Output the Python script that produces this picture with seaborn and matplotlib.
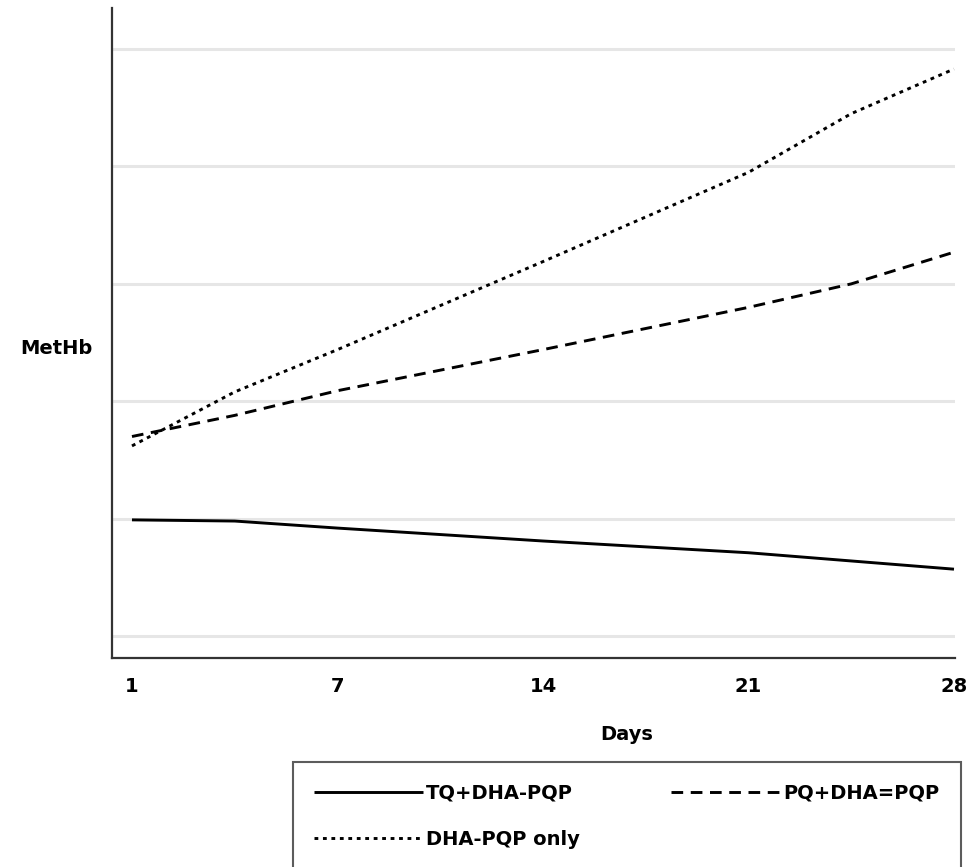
import pandas as pd
import matplotlib.pyplot as plt
import seaborn as sns

# Days shown on the x axis (evenly spaced positions)
day_labels = ["1", "7", "14", "21", "28"]
day_pos = [0, 1, 2, 3, 4]

# Points along each curve (x in tick positions, y in gridline units)
x_pos = [0, 0.5, 1, 2, 3, 3.5, 4]
tq_dha_pqp = [0.99, 0.98, 0.92, 0.81, 0.71, 0.64, 0.57]
pq_dha_pqp = [1.70, 1.88, 2.09, 2.44, 2.80, 3.00, 3.27]
dha_pqp_only = [1.62, 2.08, 2.44, 3.19, 3.95, 4.45, 4.83]

y_ticks = [0, 1, 2, 3, 4, 5]

df = pd.DataFrame({
    "x": x_pos * 3,
    "MetHb": tq_dha_pqp + pq_dha_pqp + dha_pqp_only,
    "group": ["TQ+DHA-PQP"] * len(x_pos) + ["PQ+DHA=PQP"] * len(x_pos)
             + ["DHA-PQP only"] * len(x_pos),
})

sns.set_style("white")
plt.rcParams["font.family"] = ["DejaVu Sans"]
plt.rcParams["font.weight"] = "bold"
plt.rcParams["text.color"] = "black"
plt.rcParams["axes.labelcolor"] = "black"
plt.rcParams["xtick.color"] = "black"
plt.rcParams["ytick.color"] = "black"

fig = plt.figure(figsize=(9.76, 8.67), dpi=100)
ax = fig.add_axes([0.1148, 0.241, 0.8637, 0.7498])

styles = {
    "TQ+DHA-PQP": (0, ()),
    "PQ+DHA=PQP": (0, (4, 2.6)),
    "DHA-PQP only": (0, (1.3, 1.6)),
}
for name, ls in styles.items():
    sns.lineplot(data=df[df["group"] == name], x="x", y="MetHb", ax=ax,
                 color="black", linewidth=2.1, linestyle=ls, label=name,
                 legend=False)

ax.set_xlim(-0.097, 4.005)
ax.set_ylim(-0.187, 5.35)
ax.set_xticks(day_pos)
ax.set_xticklabels(day_labels, fontsize=14, fontweight="bold")
ax.set_yticks(y_ticks)
ax.set_yticklabels([])
ax.yaxis.grid(True, color="#e6e6e6", linewidth=2.2)
ax.xaxis.grid(False)
ax.set_axisbelow(True)

for side in ["top", "right"]:
    ax.spines[side].set_visible(False)
for side in ["left", "bottom"]:
    ax.spines[side].set_color("#333333")
    ax.spines[side].set_linewidth(1.6)
ax.tick_params(axis="y", direction="out", length=9.5, width=1.3, color="#222222")
ax.tick_params(axis="x", direction="out", length=8, width=1.3, color="#222222",
               pad=6)

ax.set_xlabel("Days", fontsize=14, fontweight="bold")
ax.xaxis.set_label_coords(0.611, -0.103)
ax.set_ylabel("MetHb", fontsize=14, fontweight="bold", rotation=0)
ax.yaxis.set_label_coords(-0.066, 0.462)

handles, labels = ax.get_legend_handles_labels()
order = [labels.index("TQ+DHA-PQP"), labels.index("DHA-PQP only"),
         labels.index("PQ+DHA=PQP")]
leg = fig.legend([handles[i] for i in order], [labels[i] for i in order],
                 loc="upper left", bbox_to_anchor=(0.300, 0.121), ncol=2,
                 frameon=True, fancybox=False, handlelength=5.6,
                 handletextpad=0.15, columnspacing=4.7, labelspacing=1.4,
                 borderpad=1.1, borderaxespad=0,
                 prop={"size": 14, "weight": "bold"})
leg.get_frame().set_edgecolor("#333333")
leg.get_frame().set_linewidth(1.5)

plt.savefig("out.png", dpi=100)
